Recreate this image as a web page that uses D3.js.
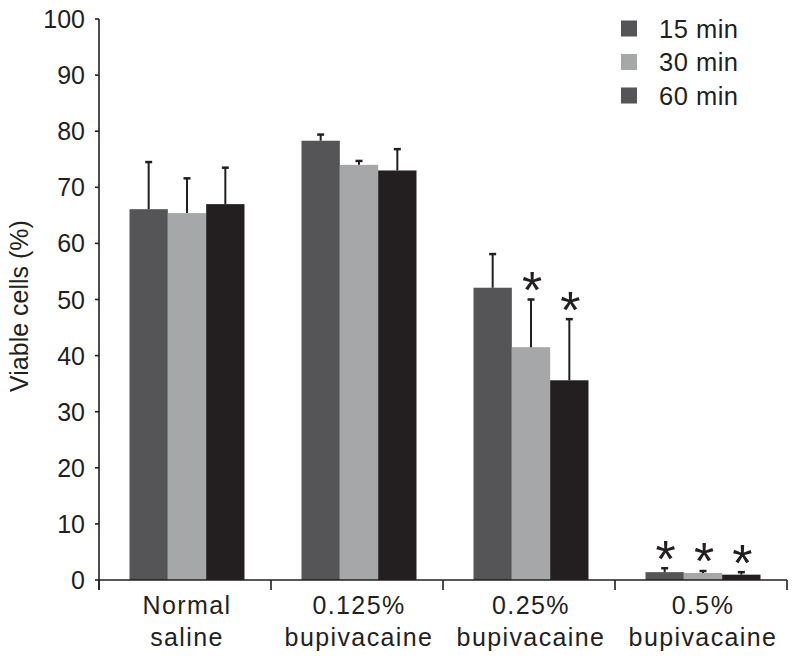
<!DOCTYPE html>
<html>
<head>
<meta charset="utf-8">
<script src="https://cdn.jsdelivr.net/npm/d3@7"></script>
<style>
  html, body { margin: 0; padding: 0; background: #fff; }
  text { font-family: "Liberation Sans", Arial, Helvetica, sans-serif; fill: #231f20; }
</style>
</head>
<body>
<svg id="chart" width="797" height="660"></svg>
<script>
// ---- data ----
const categories = [["Normal", "saline"], ["0.125%", "bupivacaine"], ["0.25%", "bupivacaine"], ["0.5%", "bupivacaine"]];
const categoryKeys = ["Normal saline", "0.125% bupivacaine", "0.25% bupivacaine", "0.5% bupivacaine"];
const series = ["15 min", "30 min", "60 min"];
const means15 = [66.1, 78.3, 52.1, 1.4];
const means30 = [65.4, 74.0, 41.5, 1.25];
const means60 = [67.0, 73.0, 35.6, 0.95];
const sd15 = [8.4, 1.1, 6.0, 0.7];
const sd30 = [6.2, 0.7, 8.5, 0.35];
const sd60 = [6.5, 3.8, 10.9, 0.45];
const sig15 = [false, false, false, true];
const sig30 = [false, false, true, true];
const sig60 = [false, false, true, true];
const yTicks = [0, 10, 20, 30, 40, 50, 60, 70, 80, 90, 100];
const barColors = ["#555557", "#a6a7a9", "#231f20"];
const legendColors = ["#555557", "#a6a7a9", "#555557"];
const yTitle = "Viable cells (%)";

const means = [means15, means30, means60];
const sds = [sd15, sd30, sd60];
const sigs = [sig15, sig30, sig60];

const svg = d3.select("#chart");
const ink = "#231f20";

const y = d3.scaleLinear().domain([0, 100]).range([580, 19]);
const x0 = d3.scaleBand().domain(categoryKeys).range([99, 787]).padding(0);
const groupW = 115;
const x1 = d3.scaleBand().domain(series).range([0, groupW]).padding(0);
const groupOffset = (x0.bandwidth() - groupW) / 2 + 2;

const data = [];
categoryKeys.forEach((c, ci) => {
  series.forEach((s, si) => {
    data.push({ c, ci, s, si, v: means[si][ci], e: sds[si][ci], sig: sigs[si][ci] });
  });
});
const bx = d => x0(d.c) + groupOffset + x1(d.s);

// bars
svg.append("g").selectAll("rect").data(data).join("rect")
  .attr("x", d => bx(d))
  .attr("y", d => y(d.v))
  .attr("width", x1.bandwidth())
  .attr("height", d => y(0) - y(d.v))
  .attr("fill", d => barColors[d.si]);

// error bars
const eg = svg.append("g").attr("stroke", ink).attr("stroke-width", 2);
data.forEach(d => {
  const cx = bx(d) + x1.bandwidth() / 2;
  eg.append("line").attr("x1", cx).attr("x2", cx).attr("y1", y(d.v)).attr("y2", y(d.v + d.e));
  eg.append("line").attr("x1", cx - 3.5).attr("x2", cx + 3.5).attr("y1", y(d.v + d.e)).attr("y2", y(d.v + d.e)).attr("stroke-width", 2.5);
});

// stars
data.filter(d => d.sig).forEach(d => {
  const cx = bx(d) + x1.bandwidth() / 2 + 1;
  const cy = y(d.v + d.e) - 21;
  const fs = 52;
  const t = svg.append("text").text("*").attr("font-size", fs).attr("x", 0).attr("y", 0);
  const bb = t.node().getBBox();
  const glyphTop = -0.716 * fs, glyphH = 0.3 * fs;
  t.attr("x", cx - bb.width / 2).attr("y", cy - (glyphTop + glyphH / 2));
});

// y axis
const ya = svg.append("g").attr("stroke", ink).attr("stroke-width", 1.6);
ya.append("line").attr("x1", 99).attr("x2", 99).attr("y1", y(100)).attr("y2", 590);
yTicks.forEach(t => {
  ya.append("line").attr("x1", 95).attr("x2", 99).attr("y1", y(t)).attr("y2", y(t));
});
svg.append("g").selectAll("text").data(yTicks).join("text")
  .attr("x", 85).attr("y", d => y(d))
  .attr("dy", "0.36em")
  .attr("text-anchor", "end")
  .attr("font-size", 25)
  .text(d => d);

// x axis
const xa = svg.append("g").attr("stroke", ink).attr("stroke-width", 1.6);
xa.append("line").attr("x1", 99).attr("x2", 787).attr("y1", 580).attr("y2", 580);
const bounds = categoryKeys.map(c => x0(c)).concat([x0.range()[1]]);
bounds.forEach(b => {
  xa.append("line").attr("x1", b).attr("x2", b).attr("y1", 580).attr("y2", 590);
});
categories.forEach((lines, i) => {
  const cx = x0(categoryKeys[i]) + x0.bandwidth() / 2 + 2;
  const t = svg.append("text").attr("text-anchor", "middle").attr("font-size", 25)
    .attr("letter-spacing", 1.4);
  lines.forEach((l, li) => {
    t.append("tspan").attr("x", cx).attr("y", 614 + li * 32).text(l);
  });
});

// y title
svg.append("text")
  .attr("transform", "translate(28,306) rotate(-90)")
  .attr("text-anchor", "middle")
  .attr("font-size", 25)
  .text(yTitle);

// legend
const lg = svg.append("g");
series.forEach((s, i) => {
  const cy = 28.5 + i * 33.5;
  lg.append("rect").attr("x", 621).attr("y", cy - 8).attr("width", 16).attr("height", 16).attr("fill", legendColors[i]);
  lg.append("text").attr("x", 659).attr("y", cy).attr("dy", "0.36em").attr("font-size", 25.5).attr("letter-spacing", 0.5).text(s);
});
</script>
</body>
</html>
